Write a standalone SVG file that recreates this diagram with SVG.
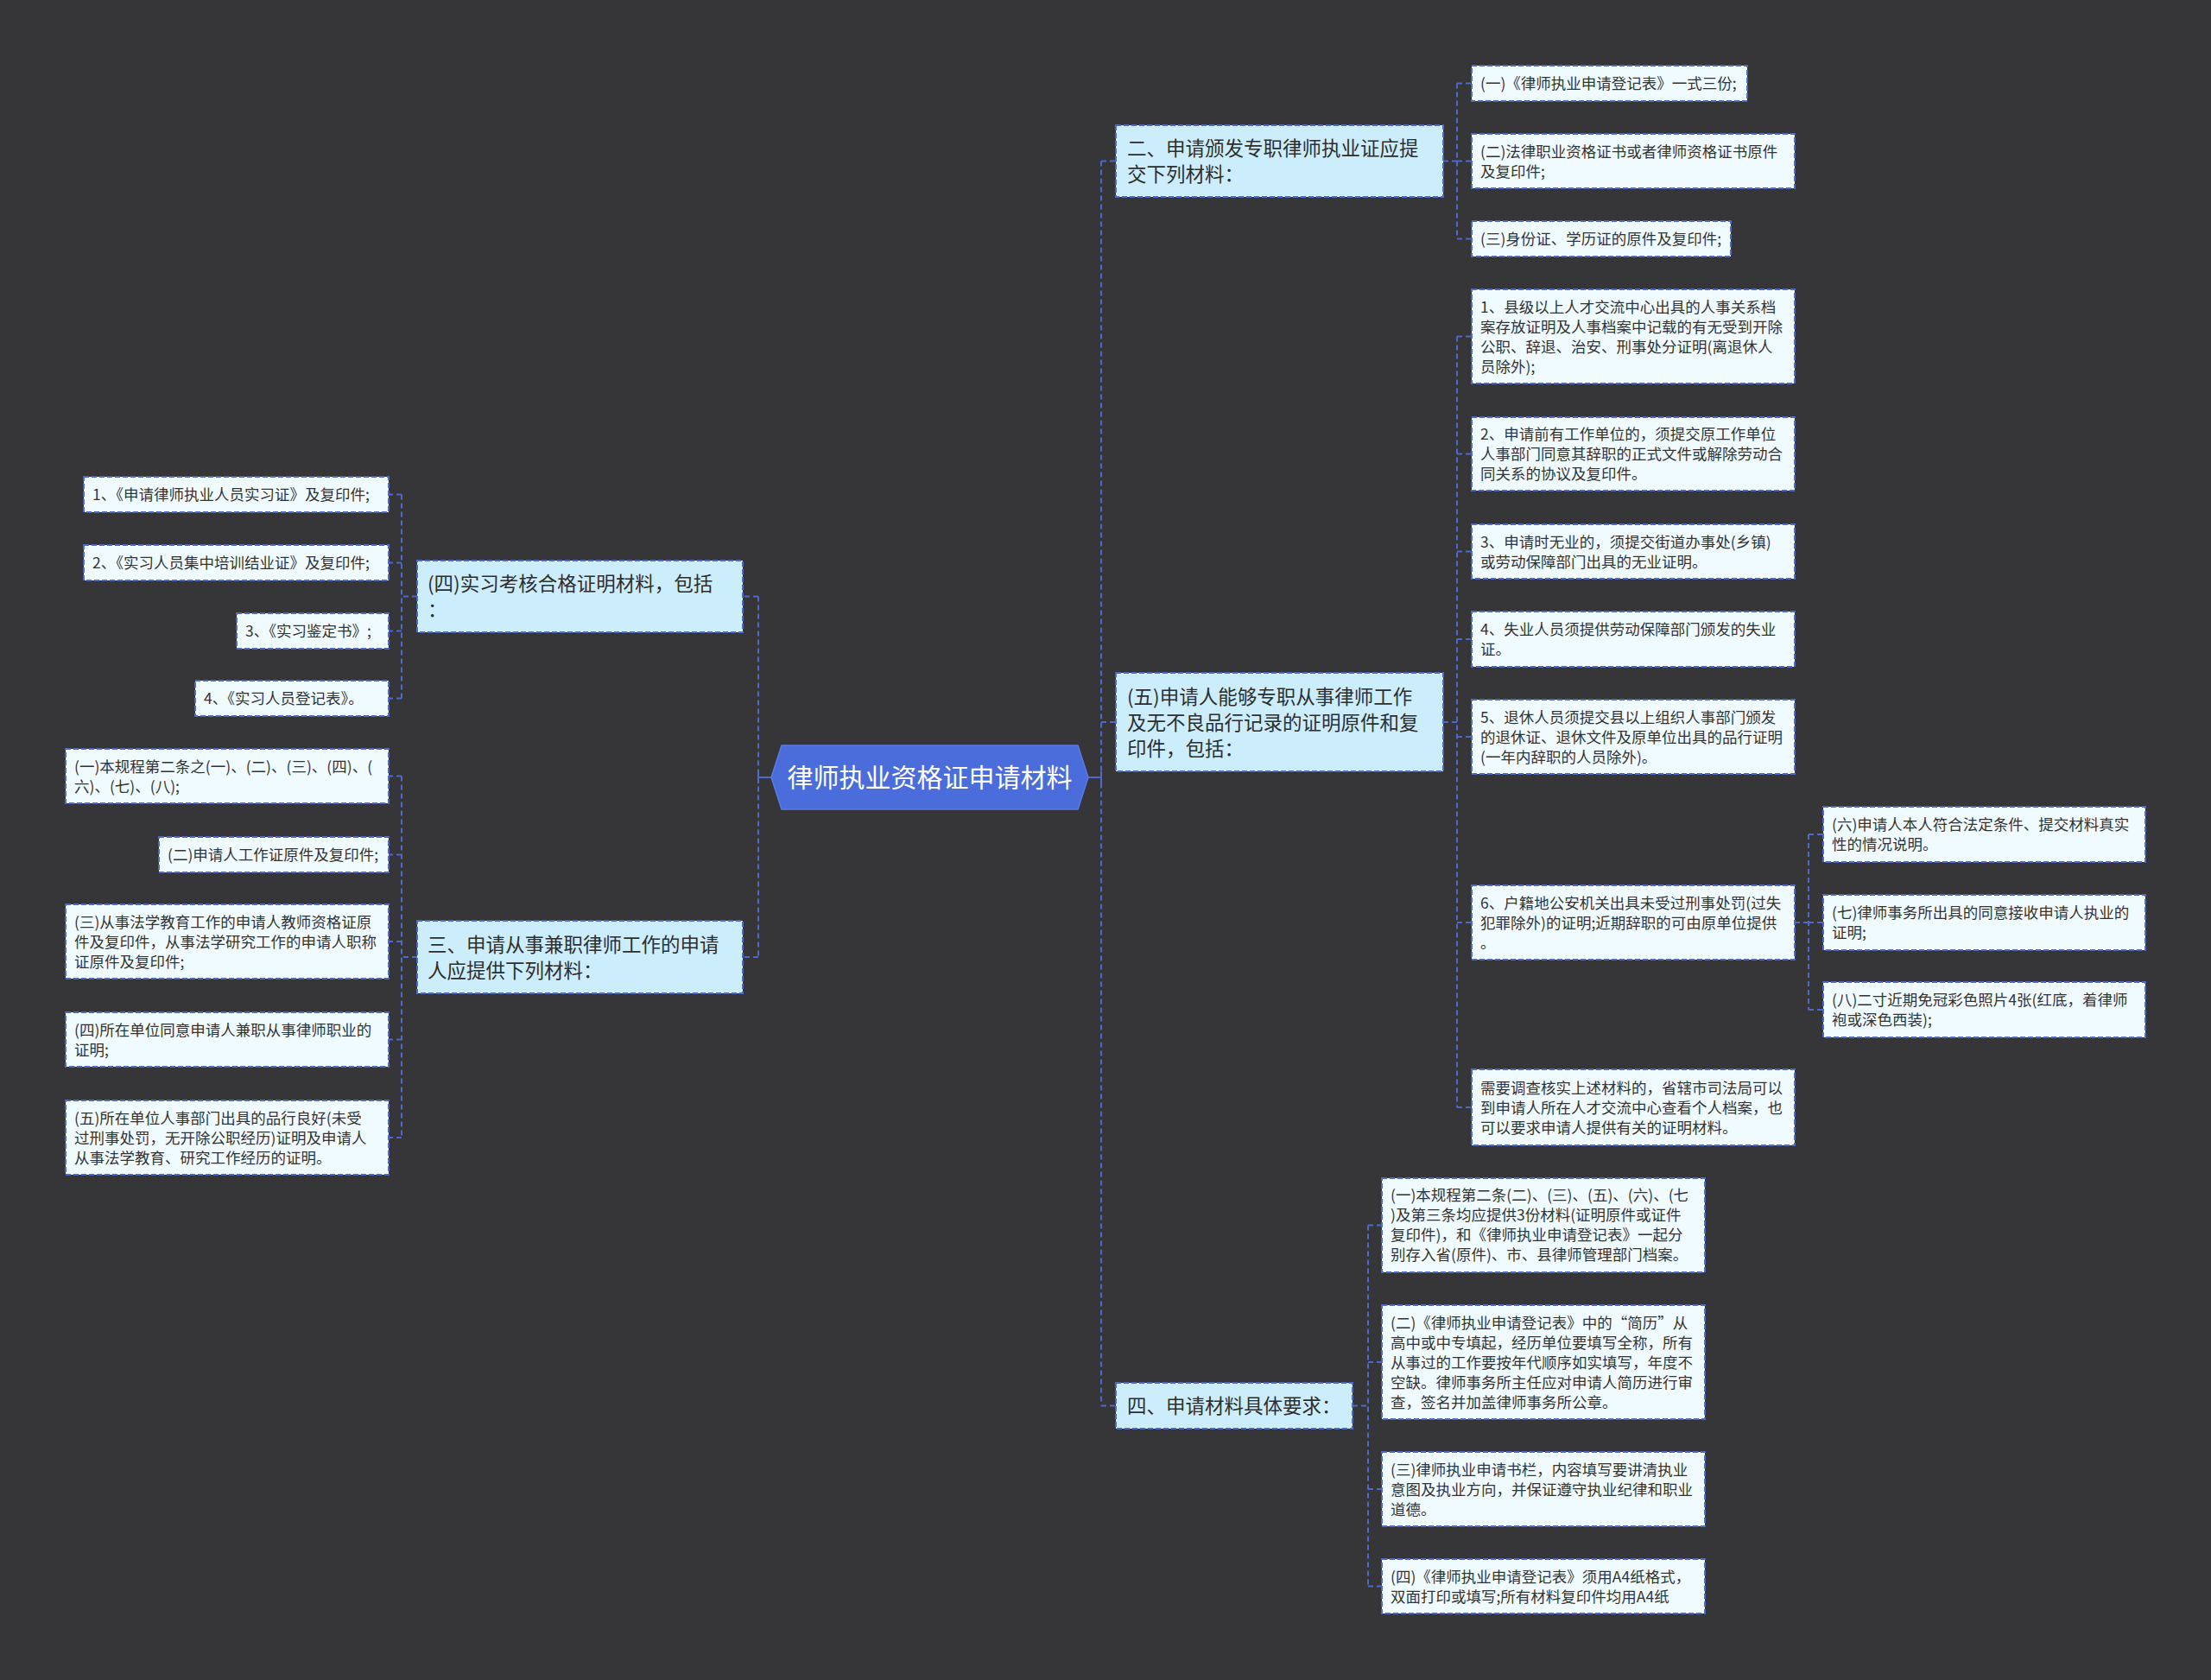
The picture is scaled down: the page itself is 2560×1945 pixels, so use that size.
<svg xmlns="http://www.w3.org/2000/svg" width="2560" height="1945" viewBox="0 0 2560 1945">
<style>
.bg{fill:#363538}
.main rect{fill:#ccedfc;stroke:#4e69cc;stroke-width:2;stroke-dasharray:6 3}
.leaf rect{fill:#f0fbff;stroke:#4e69cc;stroke-width:2;stroke-dasharray:6 3}
.main text{font-family:"Noto Sans CJK SC","Microsoft YaHei",sans-serif;font-size:22.5px;fill:#2e2e2e}
.leaf text{font-family:"Noto Sans CJK SC","Microsoft YaHei",sans-serif;font-size:17.5px;fill:#333333}
.center text{font-family:"Noto Sans CJK SC","Microsoft YaHei",sans-serif;font-size:30px;fill:#ffffff}
.conn path{fill:none;stroke:#4e69cc;stroke-width:2;stroke-dasharray:6 4}
.conn path.solid{stroke-dasharray:none}
</style>
<rect class="bg" x="0" y="0" width="2560" height="1945"/>

<g id="connectors" class="conn">
  <path class="solid" d="M893 900 H878 M878 893 V907"/>
  <path class="solid" d="M1260 900 H1275 M1275 893 V907"/>
  <!-- right trunk -->
  <path d="M1275 186.5 V1627.5 M1275 186.5 H1292 M1275 836 H1292 M1275 1627.5 H1292"/>
  <!-- left trunk -->
  <path d="M878 690.5 V1108 M878 690.5 H860 M878 1108 H860"/>
  <!-- node 二 children -->
  <path d="M1671 186.5 H1687 M1687 96.5 V276.5 M1687 96.5 H1704 M1687 186.5 H1704 M1687 276.5 H1704"/>
  <!-- node 五 children -->
  <path d="M1671 836 H1687 M1687 389.5 V1282 M1687 389.5 H1704 M1687 525.5 H1704 M1687 638.5 H1704 M1687 740 H1704 M1687 853 H1704 M1687 1068 H1704 M1687 1282 H1704"/>
  <!-- leaf 6 children -->
  <path d="M2078 1068 H2094 M2094 966 V1169 M2094 966 H2111 M2094 1068 H2111 M2094 1169 H2111"/>
  <!-- node 四 children -->
  <path d="M1566 1627.5 H1584 M1584 1418.5 V1836.5 M1584 1418.5 H1600 M1584 1577 H1600 M1584 1724 H1600 M1584 1836.5 H1600"/>
  <!-- left (四) children -->
  <path d="M483 690.5 H465 M465 572.5 V808.5 M465 572.5 H450 M465 651.5 H450 M465 730.5 H450 M465 808.5 H450"/>
  <!-- left 三 children -->
  <path d="M483 1108 H465 M465 898.5 V1317 M465 898.5 H450 M465 989.5 H450 M465 1090 H450 M465 1203.5 H450 M465 1317 H450"/>
</g>

<g id="center" class="center">
  <polygon points="893,900 905,863 1248,863 1260,900 1248,937 905,937" fill="#4a6ddb" stroke="#5b7ce6" stroke-width="1.5"/>
  <text x="1076.5" y="911" text-anchor="middle">律师执业资格证申请材料</text>
</g>

<!-- right main nodes -->
<g id="n2" class="main">
  <rect x="1292" y="145" width="379" height="83"/>
  <text x="1305" y="180">二、申请颁发专职律师执业证应提</text>
  <text x="1305" y="210">交下列材料：</text>
</g>
<g id="n5" class="main">
  <rect x="1292" y="779" width="379" height="114"/>
  <text x="1305" y="815">(五)申请人能够专职从事律师工作</text>
  <text x="1305" y="845">及无不良品行记录的证明原件和复</text>
  <text x="1305" y="875">印件，包括：</text>
</g>
<g id="n4" class="main">
  <rect x="1292" y="1601" width="274" height="53"/>
  <text x="1305" y="1636">四、申请材料具体要求：</text>
</g>

<!-- left main nodes -->
<g id="l4" class="main">
  <rect x="483" y="649" width="377" height="83"/>
  <text x="495" y="684">(四)实习考核合格证明材料，包括</text>
  <text x="495" y="714">：</text>
</g>
<g id="l3" class="main">
  <rect x="483" y="1066" width="377" height="84"/>
  <text x="495" y="1102">三、申请从事兼职律师工作的申请</text>
  <text x="495" y="1132">人应提供下列材料：</text>
</g>

<!-- node 二 leaves -->
<g id="n2a" class="leaf">
  <rect x="1704" y="76" width="319" height="41"/>
  <text x="1714" y="103">(一)《律师执业申请登记表》一式三份;</text>
</g>
<g id="n2b" class="leaf">
  <rect x="1704" y="155" width="374" height="63"/>
  <text x="1714" y="181.5">(二)法律职业资格证书或者律师资格证书原件</text>
  <text x="1714" y="204.5">及复印件;</text>
</g>
<g id="n2c" class="leaf">
  <rect x="1704" y="256" width="300" height="41"/>
  <text x="1714" y="283">(三)身份证、学历证的原件及复印件;</text>
</g>

<!-- node 五 leaves -->
<g id="n5a" class="leaf">
  <rect x="1704" y="335" width="374" height="109"/>
  <text x="1714" y="361.5">1、县级以上人才交流中心出具的人事关系档</text>
  <text x="1714" y="384.5">案存放证明及人事档案中记载的有无受到开除</text>
  <text x="1714" y="407.5">公职、辞退、治安、刑事处分证明(离退休人</text>
  <text x="1714" y="430.5">员除外);</text>
</g>
<g id="n5b" class="leaf">
  <rect x="1704" y="483" width="374" height="85"/>
  <text x="1714" y="509">2、申请前有工作单位的，须提交原工作单位</text>
  <text x="1714" y="532">人事部门同意其辞职的正式文件或解除劳动合</text>
  <text x="1714" y="555">同关系的协议及复印件。</text>
</g>
<g id="n5c" class="leaf">
  <rect x="1704" y="607" width="374" height="63"/>
  <text x="1714" y="633.5">3、申请时无业的，须提交街道办事处(乡镇)</text>
  <text x="1714" y="656.5">或劳动保障部门出具的无业证明。</text>
</g>
<g id="n5d" class="leaf">
  <rect x="1704" y="708" width="374" height="64"/>
  <text x="1714" y="735">4、失业人员须提供劳动保障部门颁发的失业</text>
  <text x="1714" y="758">证。</text>
</g>
<g id="n5e" class="leaf">
  <rect x="1704" y="810" width="374" height="86"/>
  <text x="1714" y="836.5">5、退休人员须提交县以上组织人事部门颁发</text>
  <text x="1714" y="859.5">的退休证、退休文件及原单位出具的品行证明</text>
  <text x="1714" y="882.5">(一年内辞职的人员除外)。</text>
</g>
<g id="n5f" class="leaf">
  <rect x="1704" y="1025" width="374" height="86"/>
  <text x="1714" y="1051.5">6、户籍地公安机关出具未受过刑事处罚(过失</text>
  <text x="1714" y="1074.5">犯罪除外)的证明;近期辞职的可由原单位提供</text>
  <text x="1714" y="1097.5">。</text>
</g>
<g id="n5g" class="leaf">
  <rect x="1704" y="1238" width="374" height="88"/>
  <text x="1714" y="1265.5">需要调查核实上述材料的，省辖市司法局可以</text>
  <text x="1714" y="1288.5">到申请人所在人才交流中心查看个人档案，也</text>
  <text x="1714" y="1311.5">可以要求申请人提供有关的证明材料。</text>
</g>

<!-- leaf 6 children -->
<g id="n5f1" class="leaf">
  <rect x="2111" y="934" width="373" height="64"/>
  <text x="2121" y="961">(六)申请人本人符合法定条件、提交材料真实</text>
  <text x="2121" y="984">性的情况说明。</text>
</g>
<g id="n5f2" class="leaf">
  <rect x="2111" y="1036" width="373" height="64"/>
  <text x="2121" y="1063">(七)律师事务所出具的同意接收申请人执业的</text>
  <text x="2121" y="1086">证明;</text>
</g>
<g id="n5f3" class="leaf">
  <rect x="2111" y="1137" width="373" height="64"/>
  <text x="2121" y="1164">(八)二寸近期免冠彩色照片4张(红底，着律师</text>
  <text x="2121" y="1187">袍或深色西装);</text>
</g>

<!-- node 四 leaves -->
<g id="n4a" class="leaf">
  <rect x="1600" y="1364" width="374" height="109"/>
  <text x="1610" y="1390">(一)本规程第二条(二)、(三)、(五)、(六)、(七</text>
  <text x="1610" y="1413">)及第三条均应提供3份材料(证明原件或证件</text>
  <text x="1610" y="1436">复印件)，和《律师执业申请登记表》一起分</text>
  <text x="1610" y="1459">别存入省(原件)、市、县律师管理部门档案。</text>
</g>
<g id="n4b" class="leaf">
  <rect x="1600" y="1511" width="374" height="132"/>
  <text x="1610" y="1537.5">(二)《律师执业申请登记表》中的“简历”从</text>
  <text x="1610" y="1560.5">高中或中专填起，经历单位要填写全称，所有</text>
  <text x="1610" y="1583.5">从事过的工作要按年代顺序如实填写，年度不</text>
  <text x="1610" y="1606.5">空缺。律师事务所主任应对申请人简历进行审</text>
  <text x="1610" y="1629.5">查，签名并加盖律师事务所公章。</text>
</g>
<g id="n4c" class="leaf">
  <rect x="1600" y="1681" width="374" height="86"/>
  <text x="1610" y="1707.5">(三)律师执业申请书栏，内容填写要讲清执业</text>
  <text x="1610" y="1730.5">意图及执业方向，并保证遵守执业纪律和职业</text>
  <text x="1610" y="1753.5">道德。</text>
</g>
<g id="n4d" class="leaf">
  <rect x="1600" y="1805" width="374" height="63"/>
  <text x="1610" y="1831.5">(四)《律师执业申请登记表》须用A4纸格式，</text>
  <text x="1610" y="1854.5">双面打印或填写;所有材料复印件均用A4纸</text>
</g>

<!-- left (四) leaves -->
<g id="l4a" class="leaf">
  <rect x="97" y="552" width="353" height="41"/>
  <text x="107" y="579">1、《申请律师执业人员实习证》及复印件;</text>
</g>
<g id="l4b" class="leaf">
  <rect x="97" y="631" width="353" height="41"/>
  <text x="107" y="658">2、《实习人员集中培训结业证》及复印件;</text>
</g>
<g id="l4c" class="leaf">
  <rect x="274" y="710" width="176" height="41"/>
  <text x="284" y="737">3、《实习鉴定书》;</text>
</g>
<g id="l4d" class="leaf">
  <rect x="226" y="788" width="224" height="41"/>
  <text x="236" y="815">4、《实习人员登记表》。</text>
</g>

<!-- left 三 leaves -->
<g id="l3a" class="leaf">
  <rect x="76" y="867" width="374" height="63"/>
  <text x="86" y="893.5">(一)本规程第二条之(一)、(二)、(三)、(四)、(</text>
  <text x="86" y="916.5">六)、(七)、(八);</text>
</g>
<g id="l3b" class="leaf">
  <rect x="184" y="969" width="266" height="41"/>
  <text x="194" y="996">(二)申请人工作证原件及复印件;</text>
</g>
<g id="l3c" class="leaf">
  <rect x="76" y="1047" width="374" height="86"/>
  <text x="86" y="1073.5">(三)从事法学教育工作的申请人教师资格证原</text>
  <text x="86" y="1096.5">件及复印件，从事法学研究工作的申请人职称</text>
  <text x="86" y="1119.5">证原件及复印件;</text>
</g>
<g id="l3d" class="leaf">
  <rect x="76" y="1172" width="374" height="63"/>
  <text x="86" y="1198.5">(四)所在单位同意申请人兼职从事律师职业的</text>
  <text x="86" y="1221.5">证明;</text>
</g>
<g id="l3e" class="leaf">
  <rect x="76" y="1274" width="374" height="86"/>
  <text x="86" y="1300.5">(五)所在单位人事部门出具的品行良好(未受</text>
  <text x="86" y="1323.5">过刑事处罚，无开除公职经历)证明及申请人</text>
  <text x="86" y="1346.5">从事法学教育、研究工作经历的证明。</text>
</g>
</svg>
